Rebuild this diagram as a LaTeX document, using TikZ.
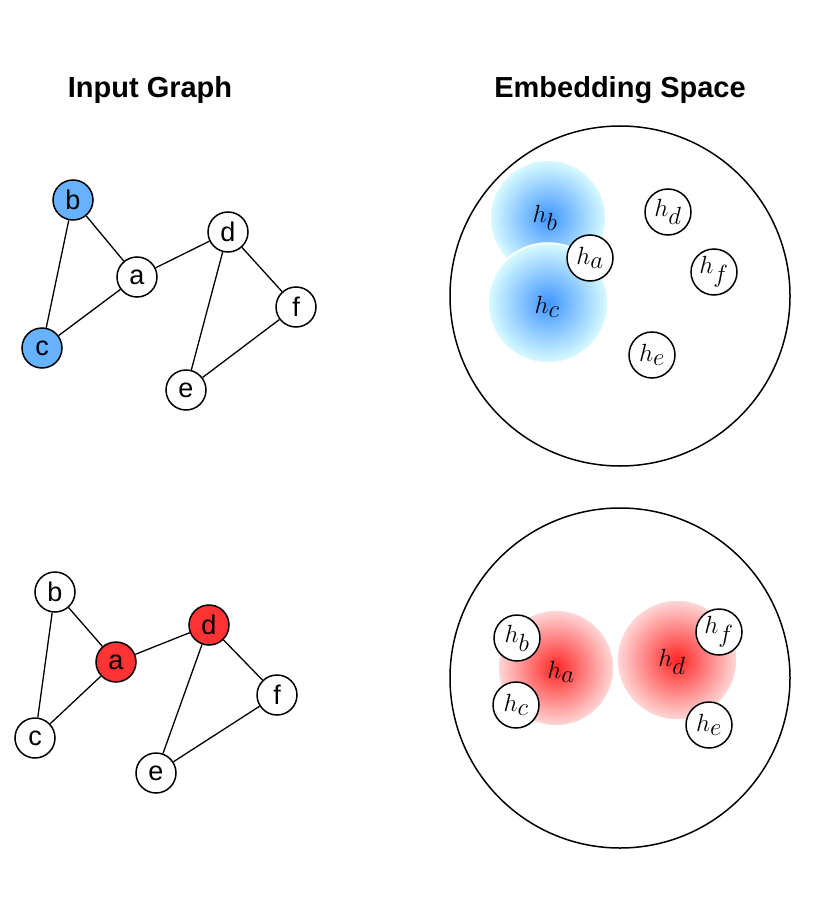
\documentclass[tikz,border=0pt]{standalone}
\usepackage{fontspec}
\setmainfont{Liberation Sans}
\begin{document}
\begin{tikzpicture}[x=1pt,y=-1pt,
 gn/.style={circle,draw,line width=1.5pt,minimum size=40pt,inner sep=0pt,font=\fontsize{27}{27}\selectfont},
 hn/.style={circle,draw,line width=1.5pt,fill=white,minimum size=46pt,inner sep=0pt,font=\fontsize{34}{34}\selectfont},
 ml/.style={font=\fontsize{34}{34}\selectfont},
 ed/.style={line width=1.3pt},
 ttl/.style={font=\bfseries\fontsize{29}{29}\selectfont},
 bsh/.style={inner color=blue!55!cyan!75,outer color=blue!10!cyan!15,draw=white,line width=1.5pt},
 rsh/.style={inner color=red!85,outer color=red!15,draw=white,line width=1.5pt}]
\useasboundingbox (0,0) rectangle (828,912);
\node[ttl] (t1) at (150,90) {Input Graph};
\node[ttl] (t2) at (620,90) {Embedding Space};
% top graph
\node[gn,fill=blue!50!cyan!60] (b1) at (73,200) {b};
\node[gn] (a1) at (137,277) {a};
\node[gn] (d1) at (228,232) {d};
\node[gn] (f1) at (296,307) {f};
\node[gn,fill=blue!50!cyan!60] (c1) at (42,348) {c};
\node[gn] (e1) at (186,390) {e};
\draw[ed] (b1)--(a1) (b1)--(c1) (c1)--(a1) (a1)--(d1) (d1)--(f1) (d1)--(e1) (e1)--(f1);
% bottom graph
\node[gn] (b2) at (55,592) {b};
\node[gn,fill=red!80] (a2) at (116,662) {a};
\node[gn,fill=red!80] (d2) at (209,625) {d};
\node[gn] (f2) at (277,695) {f};
\node[gn] (c2) at (35,738) {c};
\node[gn] (e2) at (156,773) {e};
\draw[ed] (b2)--(a2) (b2)--(c2) (c2)--(a2) (a2)--(d2) (d2)--(f2) (d2)--(e2) (e2)--(f2);
% top embedding
\node[circle,draw,line width=1.5pt,minimum size=340pt] (s1) at (620,296) {};
\shade[bsh] (548,218) circle (58);
\shade[bsh] (548,303) circle (60);
\node[ml] (lb1) at (545,218) {$h_b$};
\node[ml] (lc1) at (547,307) {$h_c$};
\node[hn] (ha1) at (590,258) {$h_a$};
\node[hn] (hd1) at (668,212) {$h_d$};
\node[hn] (hf1) at (714,272) {$h_f$};
\node[hn] (he1) at (652,355) {$h_e$};
% bottom embedding
\node[circle,draw,line width=1.5pt,minimum size=340pt] (s2) at (620,678) {};
\shade[rsh] (556,668) circle (58);
\shade[rsh] (677,660) circle (60);
\node[ml] (la2) at (561,672) {$h_a$};
\node[ml] (ld2) at (672,662) {$h_d$};
\node[hn] (hb2) at (517,638) {$h_b$};
\node[hn] (hc2) at (516,705) {$h_c$};
\node[hn] (hf2) at (719,632) {$h_f$};
\node[hn] (he2) at (709,725) {$h_e$};
\end{tikzpicture}
\end{document}
